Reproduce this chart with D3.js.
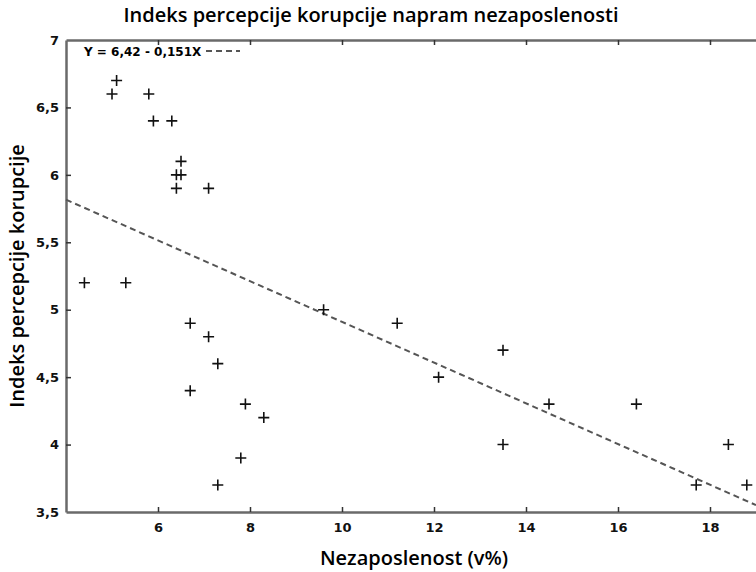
<!DOCTYPE html>
<html>
<head>
<meta charset="utf-8">
<script src="https://cdn.jsdelivr.net/npm/d3@7"></script>
<style>
  body { margin: 0; background: #fff; }
  .lbl { font-family: "Open Sans", sans-serif; font-weight: 600; fill: #000; }
  .tick text { font-family: "DejaVu Sans", sans-serif; font-weight: bold; font-size: 13px; fill: #111; }
</style>
</head>
<body>
<div id="chart"></div>
<script>
// data
const unemployment = [4.4, 5.3, 6.7, 7.1, 7.3, 6.7, 7.9, 8.3, 7.8, 7.3,
                      5.1, 5.0, 5.8, 5.9, 6.3, 6.5, 6.4, 6.5, 6.4, 7.1,
                      9.6, 11.2, 12.1, 13.5, 13.5, 14.5, 16.4, 17.7, 18.4, 18.8];
const cpi = [5.2, 5.2, 4.9, 4.8, 4.6, 4.4, 4.3, 4.2, 3.9, 3.7,
             6.7, 6.6, 6.6, 6.4, 6.4, 6.1, 6.0, 6.0, 5.9, 5.9,
             5.0, 4.9, 4.5, 4.7, 4.0, 4.3, 4.3, 3.7, 4.0, 3.7];
const xTicks = [6, 8, 10, 12, 14, 16, 18];
const yTicks = [3.5, 4, 4.5, 5, 5.5, 6, 6.5, 7];
const intercept = 6.42;
const slope = -0.151;

// dimensions
const width = 756;
const height = 572;
const plotLeft = 66, plotRight = 756, plotTop = 40, plotBottom = 512;

const locale = d3.formatLocale({decimal: ',', thousands: '.', grouping: [3], currency: ['', '']});
const fmt = locale.format('~g');

const xScale = d3.scaleLinear().domain([4, 19]).range([plotLeft, plotRight]);
const yScale = d3.scaleLinear().domain([3.5, 7]).range([plotBottom, plotTop]);

const svg = d3.select('#chart')
              .append('svg')
              .attr('width', width)
              .attr('height', height);

// axes
const xAxis = d3.axisBottom(xScale).tickValues(xTicks).tickFormat(d => d)
                .tickSizeInner(-5).tickSizeOuter(0).tickPadding(11);
const xAxisTop = d3.axisTop(xScale).tickValues(xTicks).tickFormat('')
                .tickSizeInner(-5).tickSizeOuter(0);
const yAxis = d3.axisLeft(yScale).tickValues(yTicks).tickFormat(fmt)
                .tickSizeInner(-5).tickSizeOuter(0).tickPadding(7);

const gx = svg.append('g').attr('transform', `translate(0,${plotBottom})`).call(xAxis);
const gt = svg.append('g').attr('transform', `translate(0,${plotTop})`).call(xAxisTop);
const gy = svg.append('g').attr('transform', `translate(${plotLeft},0)`).call(yAxis);

[gx, gt, gy].forEach(g => {
    g.select('.domain').attr('stroke', '#6a6a6a').attr('stroke-width', 2.5);
    g.selectAll('.tick line').attr('stroke', '#333').attr('stroke-width', 1.5);
});
gy.selectAll('.tick').filter(d => d === 3.5 || d === 7).select('line').remove();

// regression line
const x0 = xScale.domain()[0], x1 = xScale.domain()[1];
svg.append('line')
   .attr('x1', xScale(x0)).attr('y1', yScale(intercept + slope * x0))
   .attr('x2', xScale(x1)).attr('y2', yScale(intercept + slope * x1))
   .attr('stroke', '#555')
   .attr('stroke-width', 2)
   .attr('stroke-dasharray', '6,4');

// points as plus signs
const plus = {draw: (ctx, s) => {
    const r = 5.5;
    ctx.moveTo(-r, 0); ctx.lineTo(r, 0);
    ctx.moveTo(0, -r); ctx.lineTo(0, r);
}};
svg.append('g')
   .selectAll('path')
   .data(unemployment)
   .enter()
   .append('path')
   .attr('d', d3.symbol(plus))
   .attr('transform', (d, i) => `translate(${xScale(d)},${yScale(cpi[i])})`)
   .attr('fill', 'none')
   .attr('stroke', '#111')
   .attr('stroke-width', 1.6);

// legend
svg.append('text')
   .attr('x', 84).attr('y', 56)
   .style('font-family', '"DejaVu Sans", sans-serif')
   .style('font-weight', 'bold')
   .style('font-size', '12px')
   .text('Y = 6,42 - 0,151X');
svg.append('line')
   .attr('x1', 206).attr('x2', 240)
   .attr('y1', 51).attr('y2', 51)
   .attr('stroke', '#555')
   .attr('stroke-width', 2)
   .attr('stroke-dasharray', '6,4');

// title and axis labels
svg.append('text')
   .attr('class', 'lbl')
   .attr('x', 371).attr('y', 22)
   .attr('text-anchor', 'middle')
   .style('font-size', '20px')
   .text('Indeks percepcije korupcije napram nezaposlenosti');
svg.append('text')
   .attr('class', 'lbl')
   .attr('x', 414).attr('y', 565)
   .attr('text-anchor', 'middle')
   .style('font-size', '20px')
   .text('Nezaposlenost (v%)');
svg.append('text')
   .attr('class', 'lbl')
   .attr('transform', 'translate(24,276) rotate(-90)')
   .attr('text-anchor', 'middle')
   .style('font-size', '20px')
   .text('Indeks percepcije korupcije');
</script>
</body>
</html>
